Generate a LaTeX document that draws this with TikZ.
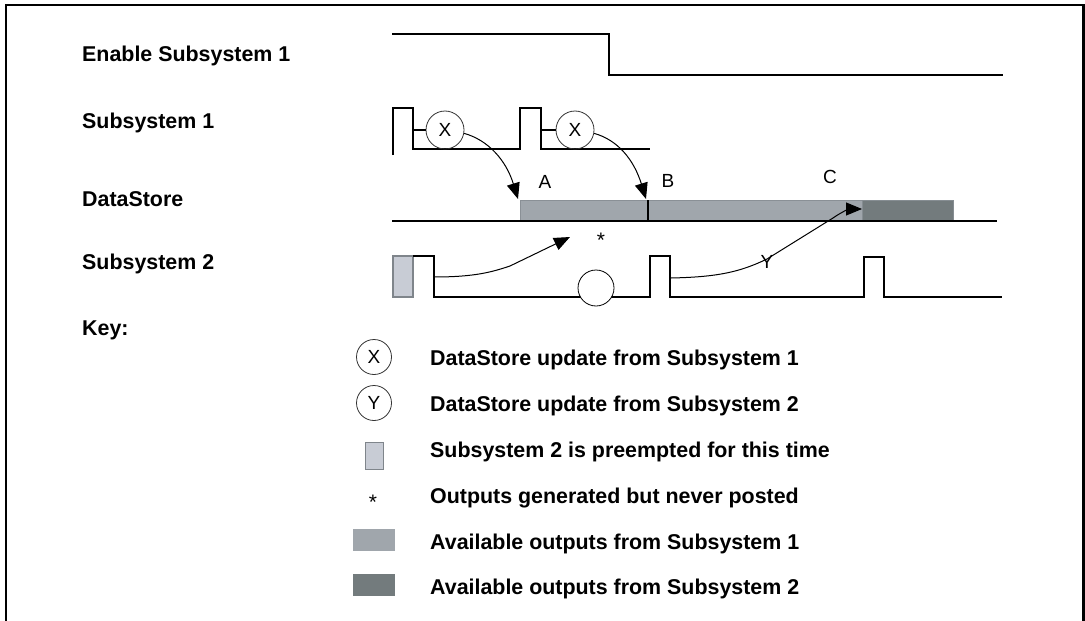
\documentclass[tikz,border=0pt]{standalone}
\usepackage{fontspec}
\setmainfont{Liberation Sans}
\usetikzlibrary{arrows.meta,positioning,calc}
\definecolor{outOne}{RGB}{160,166,172}
\definecolor{outOneEdge}{RGB}{138,144,150}
\definecolor{outTwo}{RGB}{115,123,125}
\definecolor{outTwoEdge}{RGB}{134,141,146}
\definecolor{preFill}{RGB}{200,204,213}
\definecolor{preEdge}{RGB}{127,133,139}

\begin{document}
\begin{tikzpicture}[x=1pt,y=-1pt,>={Triangle[length=16pt,width=13pt]},
  sig/.style={line width=1.2pt},
  lbl/.style={anchor=base west,inner sep=0pt,font=\fontsize{21.4}{25}\selectfont\bfseries},
  tag/.style={inner sep=0pt,font=\fontsize{19}{22}\selectfont},
  upd/.style={draw=black!80,circle,line width=0.8pt,minimum size=38pt,inner sep=0pt,font=\fontsize{19}{22}\selectfont},
  flow/.style={->,line width=1pt}]

\useasboundingbox (0,0) rectangle (1085,621);
\draw[line width=2.5pt] (6,621) -- (6,5) -- (1083.5,5) -- (1083.5,621);

% row labels
\node[lbl] (en) at (82,61) {Enable Subsystem 1};
\node[lbl] (s1) at (82,128) {Subsystem 1};
\node[lbl] (ds) at (82,206) {DataStore};
\node[lbl] (s2) at (82,269) {Subsystem 2};
\node[lbl] (key) at (82,335) {Key:};

% enable signal
\draw[line width=2pt] (392,34) -- (609,34) -- (609,75) -- (1003,75);

% subsystem 1
\draw[sig] (393,155) -- (393,108) -- (413,108) -- (413,149) -- (520,149) -- (520,108) -- (541,108) -- (541,149) -- (650,149);
\node[upd] (x1) at (445,130) {X};
\node[upd] (x2) at (575,130) {X};
\draw[sig] (413,130) -- (x1);
\draw[sig] (541,130) -- (x2);

% datastore
\filldraw[fill=outOne,draw=outOneEdge,line width=1pt] (520,200) rectangle (862,220);
\filldraw[fill=outTwo,draw=outTwoEdge,line width=1pt] (862,200) rectangle (953,220);
\draw[sig] (648,200) -- (648,220);
\draw[line width=2.5pt] (392,221) -- (997,221);
\coordinate (ta) at (518,199);
\coordinate (tb) at (646,199);
\coordinate (tc) at (862,209);
\node[tag] (la) at (545,182) {A};
\node[tag] (lb) at (668,181) {B};
\node[tag] (lc) at (830,177) {C};
\draw[flow] (x1.-10) .. controls (488,140) and (506,160) .. (ta);
\draw[flow] (x2.-10) .. controls (618,140) and (634,160) .. (tb);

% subsystem 2
\filldraw[fill=preFill,draw=preEdge,line width=2pt] (393,256) rectangle (413,297);
\draw[sig] (413,256) -- (434,256) -- (434,297) -- (650,297) -- (650,256) -- (670,256) -- (670,297) -- (864,297) -- (864,257) -- (884,257) -- (884,297) -- (1002,297);
\node[draw,circle,line width=0.8pt,minimum size=36pt,fill=white] (skip) at (596,288) {};
\node[tag,font=\fontsize{21}{24}\selectfont] (star) at (601,240) {*};
\coordinate (p1) at (434,277);
\coordinate (t1) at (570,237);
\draw[flow] (p1) .. controls (475,277) and (492,272) .. (510,266) -- (t1);
\coordinate (p2) at (671,278);
\draw[flow] (p2) .. controls (718,277) and (740,272) .. (767,259) -- (833,218) .. controls (843,211) and (850,209) .. (tc);
\node[tag] (ly) at (767,262) {Y};

% key
\node[upd,minimum size=35pt] (kx) at (374,357) {X};
\node[upd,minimum size=35pt] (ky) at (374,403) {Y};
\filldraw[fill=preFill,draw=preEdge,line width=1pt] (365,442) rectangle (383,469);
\node[tag,font=\fontsize{21}{24}\selectfont] (ks) at (373,502) {*};
\fill[outOne] (353,529) rectangle (395,551);
\fill[outTwo] (353,574) rectangle (395,596);
\node[lbl] (k1) at (430,365) {DataStore update from Subsystem 1};
\node[lbl] (k2) at (430,411) {DataStore update from Subsystem 2};
\node[lbl] (k3) at (430,457) {Subsystem 2 is preempted for this time};
\node[lbl] (k4) at (430,503) {Outputs generated but never posted};
\node[lbl] (k5) at (430,549) {Available outputs from Subsystem 1};
\node[lbl] (k6) at (430,594) {Available outputs from Subsystem 2};

\end{tikzpicture}
\end{document}
